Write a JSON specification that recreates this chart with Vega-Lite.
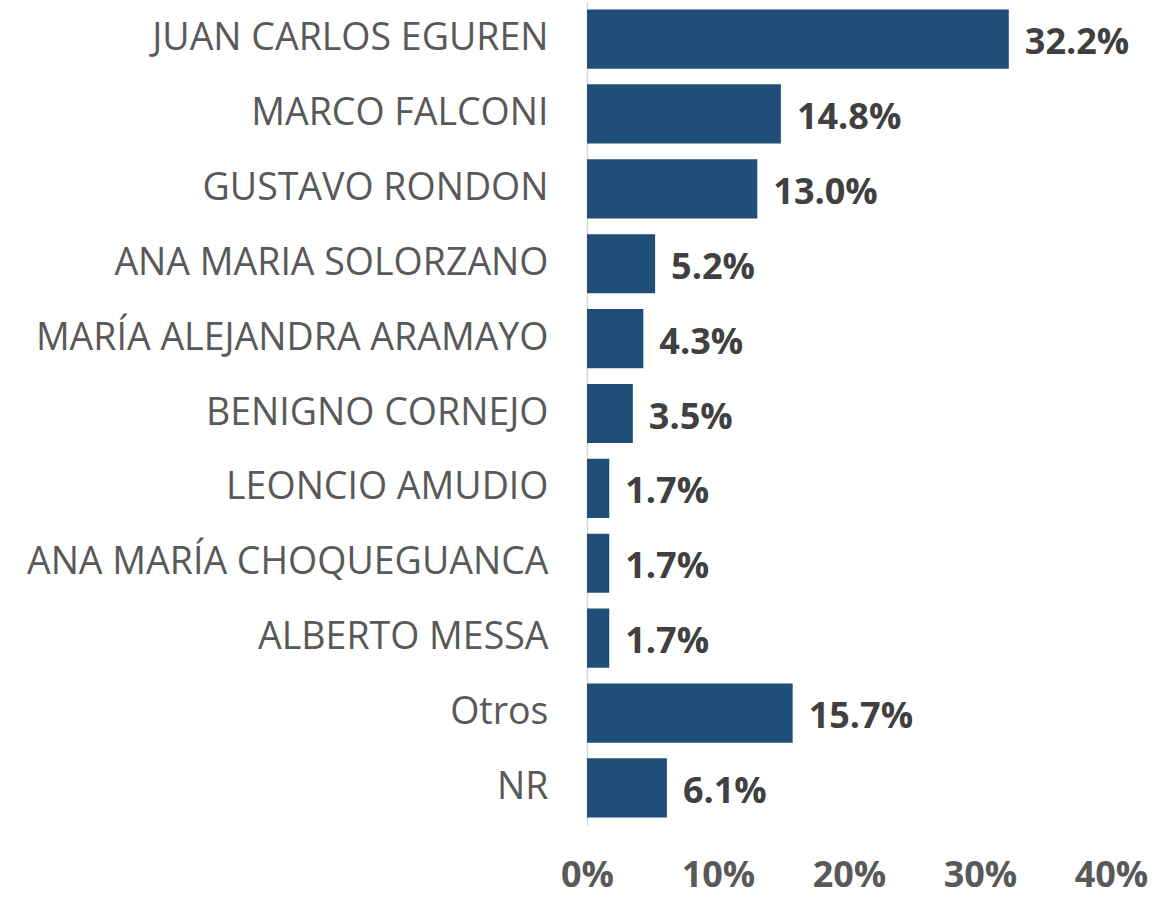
{
  "$schema": "https://vega.github.io/schema/vega-lite/v6.json",
  "width": 524,
  "height": 823,
  "autosize": "none",
  "padding": {"left": 587, "top": 2, "right": 65, "bottom": 73},
  "background": "white",
  "config": {"view": {"stroke": null}},
  "data": {"values": [
    {"name": "JUAN CARLOS EGUREN", "pct": 0.322},
    {"name": "MARCO FALCONI", "pct": 0.148},
    {"name": "GUSTAVO RONDON", "pct": 0.130},
    {"name": "ANA MARIA SOLORZANO", "pct": 0.052},
    {"name": "MARÍA ALEJANDRA ARAMAYO", "pct": 0.043},
    {"name": "BENIGNO CORNEJO", "pct": 0.035},
    {"name": "LEONCIO AMUDIO", "pct": 0.017},
    {"name": "ANA MARÍA CHOQUEGUANCA", "pct": 0.017},
    {"name": "ALBERTO MESSA", "pct": 0.017},
    {"name": "Otros", "pct": 0.157},
    {"name": "NR", "pct": 0.061}
  ]},
  "encoding": {
    "y": {"field": "name", "type": "nominal", "sort": null,
      "scale": {"paddingInner": 0.21, "paddingOuter": 0.1},
      "axis": {"title": null, "ticks": false, "domain": true, "domainColor": "#D9D9D9", "domainWidth": 1.5,
        "labelFont": "Open Sans", "labelFontSize": 37.5, "labelColor": "#595959", "labelPadding": 39, "labelLimit": 700}},
    "x": {"field": "pct", "type": "quantitative",
      "scale": {"domain": [0, 0.4]},
      "axis": {"title": null, "values": [0, 0.1, 0.2, 0.3, 0.4], "format": ".0%", "grid": false, "ticks": false, "domain": false,
        "labelFont": "Open Sans", "labelFontSize": 36, "labelFontWeight": "bold", "labelColor": "#595959", "labelPadding": 33, "labelFlush": false}}
  },
  "layer": [
    {"mark": {"type": "bar", "color": "#1F4E79"}},
    {"mark": {"type": "text", "align": "left", "baseline": "middle", "dx": 16, "dy": 4, "font": "Open Sans", "fontSize": 36, "fontWeight": "bold", "color": "#404040"},
     "encoding": {"text": {"field": "pct", "type": "quantitative", "format": ".1%"}}}
  ]
}
